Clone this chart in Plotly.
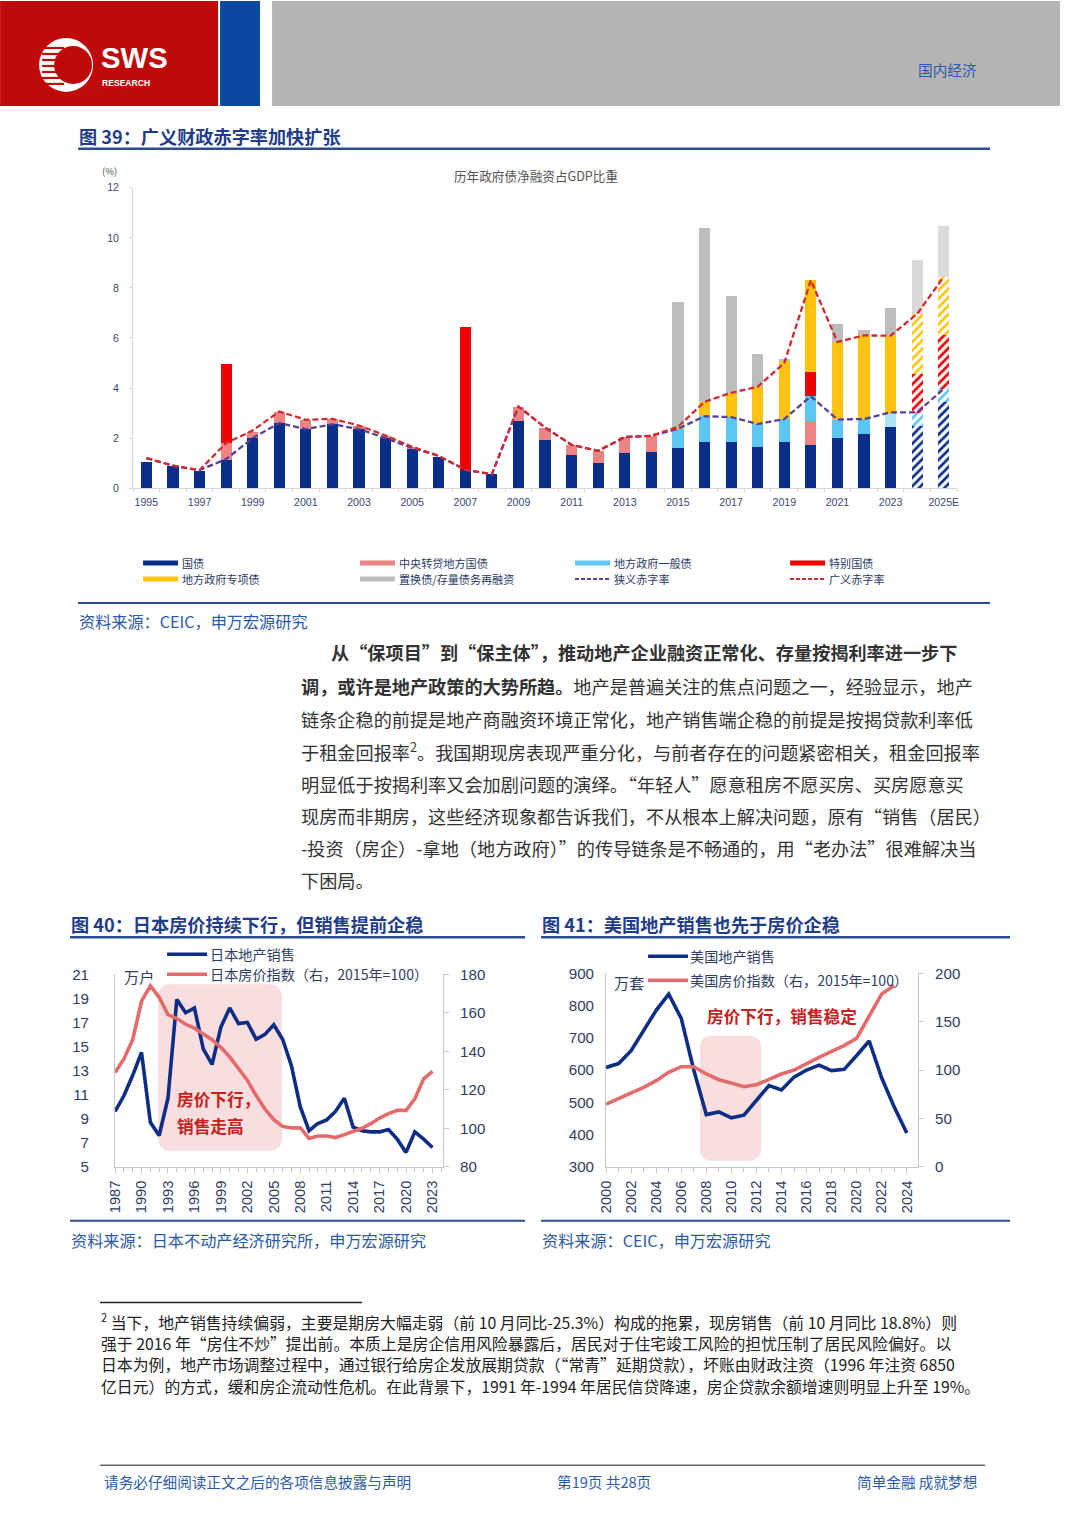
import plotly.graph_objects as go

# Page placement: the plot div sits 8px into the page and the captured page comes back
# about 1% smaller, so page coordinates are the reference pixels times S, minus the offset.
OFF = 8
S = 1.0095
FW, FH = 1060, 1500
def X(p): return (p * S - OFF) / FW
def Y(p): return 1 - (p * S - OFF) / FH
def F(s): return round(s * S, 2)

CJK = "Noto Sans CJK SC"
SANS = "Liberation Sans, Arial, Noto Sans CJK SC"
BLUE_T = "#1f3d8a"
SRC_C = "#2a5aa8"
TICK = "#2f3d64"

# ---------------- Figure 39 data (% of GDP) ----------------
years39 = list(range(1995, 2026))
ticks39 = [1995, 1997, 1999, 2001, 2003, 2005, 2007, 2009, 2011, 2013, 2015, 2017, 2019, 2021, 2023, 2025]
ticktext39 = ["1995", "1997", "1999", "2001", "2003", "2005", "2007", "2009", "2011", "2013", "2015",
              "2017", "2019", "2021", "2023", "2025E"]
guozhai = [1.06, 0.87, 0.69, 1.13, 2.00, 2.60, 2.36, 2.55, 2.36, 2.00, 1.60, 1.26, 0.73, 0.56, 2.69, 1.93,
           1.32, 1.00, 1.42, 1.45, 1.60, 1.85, 1.84, 1.65, 1.84, 1.72, 2.00, 2.17, 2.45, 2.50, 3.45]
zhuandai = [0, 0, 0, 0.67, 0.26, 0.46, 0.37, 0.20, 0.13, 0.09, 0.05, 0, 0, 0, 0.57, 0.49,
            0.41, 0.49, 0.62, 0.64, 0, 0, 0, 0, 0, 0.98, 0, 0, 0, 0, 0]
yibanzhai = [0, 0, 0, 0, 0, 0, 0, 0, 0, 0, 0, 0, 0, 0, 0, 0,
             0, 0, 0, 0, 0.77, 1.02, 1.00, 0.91, 0.92, 0.97, 0.74, 0.59, 0.52, 0.52, 0.51]
tebie = [0, 0, 0, 3.16, 0, 0, 0, 0, 0, 0, 0, 0, 5.72, 0, 0, 0,
         0, 0, 0, 0, 0, 0, 0, 0, 0, 0.98, 0, 0, 0, 1.54, 2.14]
zhuanxiang = [0, 0, 0, 0, 0, 0, 0, 0, 0, 0, 0, 0, 0, 0, 0, 0,
              0, 0, 0, 0, 0.08, 0.58, 0.97, 1.49, 2.31, 3.65, 3.10, 3.34, 3.12, 2.40, 2.34]
zhihuan = [0, 0, 0, 0, 0, 0, 0, 0, 0, 0, 0, 0, 0, 0, 0, 0,
           0, 0, 0, 0, 4.98, 6.95, 3.86, 1.32, 0.08, 0, 0.73, 0.20, 1.09, 2.14, 2.02]
narrow = [1.20, 0.90, 0.72, 1.16, 2.00, 2.60, 2.36, 2.55, 2.36, 2.00, 1.60, 1.29, 0.73, 0.56, 3.26, 2.42,
          1.73, 1.49, 2.04, 2.09, 2.37, 2.87, 2.84, 2.56, 2.76, 3.67, 2.74, 2.76, 3.03, 3.03, 3.97]
broad = [1.20, 0.90, 0.72, 1.80, 2.30, 3.06, 2.73, 2.77, 2.50, 2.10, 1.65, 1.29, 0.73, 0.56, 3.26, 2.42,
         1.73, 1.49, 2.04, 2.09, 2.45, 3.45, 3.81, 4.05, 5.00, 8.30, 5.84, 6.10, 6.09, 6.96, 8.44]
estimate_years = [2024, 2025]

# ---------------- Figure 40 data (Japan) ----------------
jp_years = list(range(1987, 2024))
jp_sales = [9.6, 10.9, 12.6, 14.5, 8.7, 7.6, 10.7, 18.9, 17.8, 18.2, 14.8, 13.5, 16.6, 18.2, 16.9, 17.0,
            15.6, 16.0, 16.8, 15.6, 13.4, 10.0, 8.0, 8.6, 8.9, 9.6, 10.7, 8.3, 8.0, 7.9, 7.9, 8.1,
            7.3, 6.2, 7.9, 7.3, 6.6]
jp_price = [129, 136, 146, 166, 174, 168, 159, 157, 154, 152, 149, 146, 142, 137, 131, 125,
            117, 110, 104.5, 101, 100.2, 100.3, 94.7, 96, 96, 95.2, 96.7, 98.4, 100, 102.4, 105.3, 107.6,
            109.3, 109.3, 115.3, 125.7, 129.5]
jp_ticks = list(range(1987, 2024, 3))

# ---------------- Figure 41 data (US) ----------------
us_years = list(range(2000, 2025))
us_sales = [608, 620, 660, 720, 785, 835, 760, 600, 462, 470, 452, 460, 505, 552, 538, 578,
            600, 615, 598, 602, 645, 690, 575, 485, 405]
us_price_years = list(range(2000, 2024))
us_price = [64.8, 70.7, 76.2, 82, 89, 97.6, 103.4, 103.4, 95.9, 90, 86.6, 82.8, 84.8, 90.7, 95.9, 100,
            106.9, 113.1, 119.3, 125.2, 132.8, 156.2, 178.6, 187.2]
us_ticks = list(range(2000, 2025, 2))

fig = go.Figure()

# ---- stacked bars fig 39
bar_specs = [
    ("国债", guozhai, "#0b2e8a", None),
    ("中央转贷地方国债", zhuandai, "#ec8484", None),
    ("地方政府一般债", yibanzhai, "#5cc8f2", {2023: "#ace3f7"}),
    ("特别国债", tebie, "#f00000", None),
    ("地方政府专项债", zhuanxiang, "#ffc20e", None),
    ("置换债/存量债务再融资", zhihuan, "#bdbdbd", {2024: "#dadada", 2025: "#dadada"}),
]
for name, vals, col, override in bar_specs:
    colors = [(override or {}).get(yr, col) for yr in years39]
    hatch_ok = name != "置换债/存量债务再融资"
    shapes_p = ["/" if (yr in estimate_years and hatch_ok) else "" for yr in years39]
    fig.add_trace(go.Bar(
        x=years39, y=vals, name=name, width=0.42, xaxis="x", yaxis="y",
        marker=dict(color=colors, line=dict(width=0),
                    pattern=dict(shape=shapes_p, fgcolor=colors, bgcolor="white",
                                 size=6, solidity=0.45, fillmode="replace")),
        showlegend=False, hoverinfo="skip"))

fig.add_trace(go.Scatter(x=years39, y=narrow, mode="lines", name="狭义赤字率", xaxis="x", yaxis="y",
                         line=dict(color="#5b3f95", width=2.3, dash="6px,3px"), showlegend=False))
fig.add_trace(go.Scatter(x=years39, y=broad, mode="lines", name="广义赤字率", xaxis="x", yaxis="y",
                         line=dict(color="#d22a2e", width=2.3, dash="6px,3px"), showlegend=False))

# ---- fig 40 lines
fig.add_trace(go.Scatter(x=jp_years, y=jp_sales, mode="lines", name="日本地产销售", xaxis="x2", yaxis="y2",
                         line=dict(color="#0d2e84", width=3.6), showlegend=False))
fig.add_trace(go.Scatter(x=jp_years, y=jp_price, mode="lines", name="日本房价指数", xaxis="x2", yaxis="y3",
                         line=dict(color="#e56a6b", width=3.6), showlegend=False))
# ---- fig 41 lines
fig.add_trace(go.Scatter(x=us_years, y=us_sales, mode="lines", name="美国地产销售", xaxis="x3", yaxis="y4",
                         line=dict(color="#0d2e84", width=3.6), showlegend=False))
fig.add_trace(go.Scatter(x=us_price_years, y=us_price, mode="lines", name="美国房价指数", xaxis="x3", yaxis="y5",
                         line=dict(color="#e56a6b", width=3.6), showlegend=False))

AX = "#c8c8c8"
tf39 = dict(size=F(10.5), color="#3a4a70", family=SANS)
tfc = dict(size=F(15), color=TICK, family=SANS)
tfx = dict(size=F(14.5), color=TICK, family=SANS)
layout = dict(
    width=FW, height=FH, margin=dict(l=0, r=0, t=0, b=0),
    paper_bgcolor="white", plot_bgcolor="rgba(0,0,0,0)",
    barmode="stack", font=dict(family=SANS, color=TICK),
    xaxis=dict(domain=[X(133), X(957)], range=[1994.5, 2025.5], anchor="y",
               tickmode="array", tickvals=ticks39, ticktext=ticktext39,
               showline=True, linecolor="#d6d6d6", ticks="", showgrid=False, zeroline=False,
               tickfont=tf39, ticklabelstandoff=4,
               minor=dict(ticks="outside", tickmode="linear", tick0=1994.5, dtick=1, ticklen=3,
                          tickcolor="#d6d6d6")),
    yaxis=dict(domain=[Y(488), Y(187)], range=[0, 12], dtick=2, anchor="x",
               showline=True, linecolor="#d6d6d6", ticks="outside", ticklen=3, tickcolor="#d6d6d6",
               showgrid=False, zeroline=False, ticklabelstandoff=8, tickfont=tf39),
    xaxis2=dict(domain=[X(115), X(443)], range=[1987, 2024.2], anchor="y2",
                tickmode="array", tickvals=jp_ticks, tickangle=-90,
                showline=True, linecolor=AX, ticks="outside", ticklen=5, tickcolor=AX,
                minor=dict(ticks="outside", tickmode="linear", tick0=1987, dtick=1, ticklen=4, tickcolor=AX),
                showgrid=False, zeroline=False, ticklabelstandoff=2, tickfont=tfx),
    yaxis2=dict(domain=[Y(1168), Y(975)], range=[5, 21], tick0=5, dtick=2, anchor="x2",
                showline=True, linecolor=AX, ticks="", showgrid=False, zeroline=False,
                ticklabelstandoff=22, tickfont=tfc),
    yaxis3=dict(overlaying="y2", side="right", anchor="x2", range=[80, 180], dtick=20,
                showline=True, linecolor=AX, ticks="outside", ticklen=5, tickcolor=AX,
                showgrid=False, zeroline=False, ticklabelstandoff=8, tickfont=tfc),
    xaxis3=dict(domain=[X(606), X(918)], range=[2000, 2024.9], anchor="y4",
                tickmode="array", tickvals=us_ticks, tickangle=-90,
                showline=True, linecolor=AX, ticks="outside", ticklen=5, tickcolor=AX,
                minor=dict(ticks="outside", tickmode="linear", tick0=2000, dtick=1, ticklen=4, tickcolor=AX),
                showgrid=False, zeroline=False, ticklabelstandoff=2, tickfont=tfx),
    yaxis4=dict(domain=[Y(1168), Y(974)], range=[300, 900], dtick=100, anchor="x3",
                showline=True, linecolor=AX, ticks="", showgrid=False, zeroline=False,
                ticklabelstandoff=8, tickfont=tfc),
    yaxis5=dict(overlaying="y4", side="right", anchor="x3", range=[0, 200], dtick=50,
                showline=True, linecolor=AX, ticks="outside", ticklen=5, tickcolor=AX,
                showgrid=False, zeroline=False, ticklabelstandoff=8, tickfont=tfc),
)

shapes = []
ann = []

def rect(x0, y0, x1, y1, color, layer="above"):
    shapes.append(dict(type="rect", xref="paper", yref="paper", x0=X(x0), x1=X(x1), y0=Y(y1), y1=Y(y0),
                       fillcolor=color, line=dict(width=0), layer=layer))

def hline(x0, x1, y, color, width, dash="solid"):
    shapes.append(dict(type="line", xref="paper", yref="paper", x0=X(x0), x1=X(x1), y0=Y(y), y1=Y(y),
                       line=dict(color=color, width=width, dash=dash)))

def circle(cx, cy, r, color):
    shapes.append(dict(type="circle", xref="paper", yref="paper", x0=X(cx - r), x1=X(cx + r),
                       y0=Y(cy + r), y1=Y(cy - r), fillcolor=color, line=dict(width=0)))

def rrect(x0, y0, x1, y1, r, color):
    pts = lambda x, y: f"{X(x):.5f},{Y(y):.5f}"
    path = (f"M {pts(x0 + r, y0)} L {pts(x1 - r, y0)} Q {pts(x1, y0)} {pts(x1, y0 + r)} "
            f"L {pts(x1, y1 - r)} Q {pts(x1, y1)} {pts(x1 - r, y1)} L {pts(x0 + r, y1)} "
            f"Q {pts(x0, y1)} {pts(x0, y1 - r)} L {pts(x0, y0 + r)} Q {pts(x0, y0)} {pts(x0 + r, y0)} Z")
    shapes.append(dict(type="path", xref="paper", yref="paper", path=path, fillcolor=color,
                       line=dict(width=0), layer="below"))

def txt(x, y, s, size, color, anchor="left", family=CJK):
    ann.append(dict(x=X(x), y=Y(y), xref="paper", yref="paper", text=s, showarrow=False,
                    xanchor=anchor, yanchor="middle", borderpad=0,
                    font=dict(size=F(size), color=color, family=family)))

# ---- header
rect(0, 0, 218, 105, "#bf0a0a")
rect(220, 0, 260, 105, "#0b49a0")
rect(272, 0, 1066, 105, "#b4b4b4")
circle(66, 64, 27, "white")
circle(73, 64, 19, "#bf0a0a")
for sy in [47, 53, 59, 65, 71, 77, 83]:
    hline(42, 64, sy, "#bf0a0a", 2.2)
txt(100, 57, "<b>SWS</b>", 29, "white", family="Liberation Sans")
txt(101, 82, "<b>RESEARCH</b>", 8.5, "white", family="Liberation Sans")
txt(978, 69, "国内经济", 14.5, "#2a5caa", anchor="right")

# ---- figure 39 frame
txt(78, 135, "<b>图 39：广义财政赤字率加快扩张</b>", 18, BLUE_T)
hline(78, 990, 148, "#2d4b8e", 2.5)
txt(536, 175, "历年政府债净融资占GDP比重", 12.5, "#555555", anchor="center")
txt(101, 170, "(%)", 9.5, "#555555")
hline(78, 990, 603, "#2d4b8e", 2)
txt(78, 621, "资料来源：CEIC，申万宏源研究", 16, SRC_C)

leg = [
    (143, 563, "国债", "#0b2e8a", "bar"),
    (360, 563, "中央转贷地方国债", "#ec8484", "bar"),
    (575, 563, "地方政府一般债", "#5cc8f2", "bar"),
    (790, 563, "特别国债", "#f00000", "bar"),
    (143, 579, "地方政府专项债", "#ffc20e", "bar"),
    (360, 579, "置换债/存量债务再融资", "#bdbdbd", "bar"),
    (575, 579, "狭义赤字率", "#5b3f95", "dash"),
    (790, 579, "广义赤字率", "#d22a2e", "dash"),
]
for lx, ly, name, col, kind in leg:
    if kind == "bar":
        rect(lx, ly - 2.5, lx + 35, ly + 2.5, col)
    else:
        hline(lx, lx + 35, ly, col, 2, dash="4px,2px")
    txt(lx + 38, ly, name, 11, "#2a3a66")

# ---- paragraph
para = [
    (330, 652, "<b>从“保项目”到“保主体”，推动地产企业融资正常化、存量按揭利率进一步下</b>"),
    (300, 686, "<b>调，或许是地产政策的大势所趋。</b>地产是普遍关注的焦点问题之一，经验显示，地产"),
    (300, 719, "链条企稳的前提是地产商融资环境正常化，地产销售端企稳的前提是按揭贷款利率低"),
    (300, 751, "于租金回报率<sup>2</sup>。我国期现房表现严重分化，与前者存在的问题紧密相关，租金回报率"),
    (300, 784, "明显低于按揭利率又会加剧问题的演绎。“年轻人”愿意租房不愿买房、买房愿意买"),
    (300, 816, "现房而非期房，这些经济现象都告诉我们，不从根本上解决问题，原有“销售（居民）"),
    (300, 849, "-投资（房企）-拿地（地方政府）”的传导链条是不畅通的，用“老办法”很难解决当"),
    (300, 881, "下困局。"),
]
for px_, py_, s in para:
    txt(px_, py_, s, 18, "#333333")

# ---- figure 40 / 41 frames
txt(70, 925, "<b>图 40：日本房价持续下行，但销售提前企稳</b>", 18, BLUE_T)
txt(541, 925, "<b>图 41：美国地产销售也先于房价企稳</b>", 18, BLUE_T)
hline(70, 525, 938, "#2d4b8e", 2.5)
hline(541, 1010, 938, "#2d4b8e", 2.5)
hline(70, 525, 1222, "#2d4b8e", 2)
hline(541, 1010, 1222, "#2d4b8e", 2)
txt(70, 1241, "资料来源：日本不动产经济研究所，申万宏源研究", 16, SRC_C)
txt(541, 1241, "资料来源：CEIC，申万宏源研究", 16, SRC_C)

# fig 40 decorations
rrect(158, 985, 282, 1152, 14, "#f8dede")
txt(176, 1100, "<b>房价下行，</b>", 16.5, "#c8201d")
txt(176, 1127, "<b>销售走高</b>", 16.5, "#c8201d")
hline(167, 207, 955, "#0d2e84", 3.6)
txt(209, 955, "日本地产销售", 14, TICK)
hline(167, 207, 975, "#e56a6b", 3.6)
txt(209, 975, "日本房价指数（右，2015年=100）", 14, TICK)
txt(123, 977, "万户", 15, TICK)

# fig 41 decorations
rrect(700, 1037, 761, 1162, 12, "#f8dede")
txt(706, 1017, "<b>房价下行，销售稳定</b>", 16.5, "#c8201d")
hline(648, 688, 957, "#0d2e84", 3.6)
txt(689, 957, "美国地产销售", 14, TICK)
hline(648, 688, 981, "#e56a6b", 3.6)
txt(689, 981, "美国房价指数（右，2015年=100）", 14, TICK)
txt(613, 983, "万套", 15, TICK)

# ---- footnote
hline(100, 362, 1304, "#222222", 1.5)
foot = [
    (1323, "<sup>2</sup> 当下，地产销售持续偏弱，主要是期房大幅走弱（前 10 月同比-25.3%）构成的拖累，现房销售（前 10 月同比 18.8%）则"),
    (1345, "强于 2016 年“房住不炒”提出前。本质上是房企信用风险暴露后，居民对于住宅竣工风险的担忧压制了居民风险偏好。以"),
    (1366, "日本为例，地产市场调整过程中，通过银行给房企发放展期贷款（“常青”延期贷款），坏账由财政注资（1996 年注资 6850"),
    (1388, "亿日元）的方式，缓和房企流动性危机。在此背景下，1991 年-1994 年居民信贷降速，房企贷款余额增速则明显上升至 19%。"),
]
for fy, s in foot:
    txt(100, fy, s, 15.7, "#222222")

# ---- footer
hline(100, 985, 1467, "#666666", 1.5)
txt(103, 1483, "请务必仔细阅读正文之后的各项信息披露与声明", 14.5, "#2a5caa")
txt(604, 1483, "第19页 共28页", 14.5, "#2a5caa", anchor="center")
txt(978, 1483, "简单金融 成就梦想", 14.5, "#2a5caa", anchor="right")

layout["shapes"] = shapes
layout["annotations"] = ann
fig.update_layout(**layout)
fig.write_html("out.html")
